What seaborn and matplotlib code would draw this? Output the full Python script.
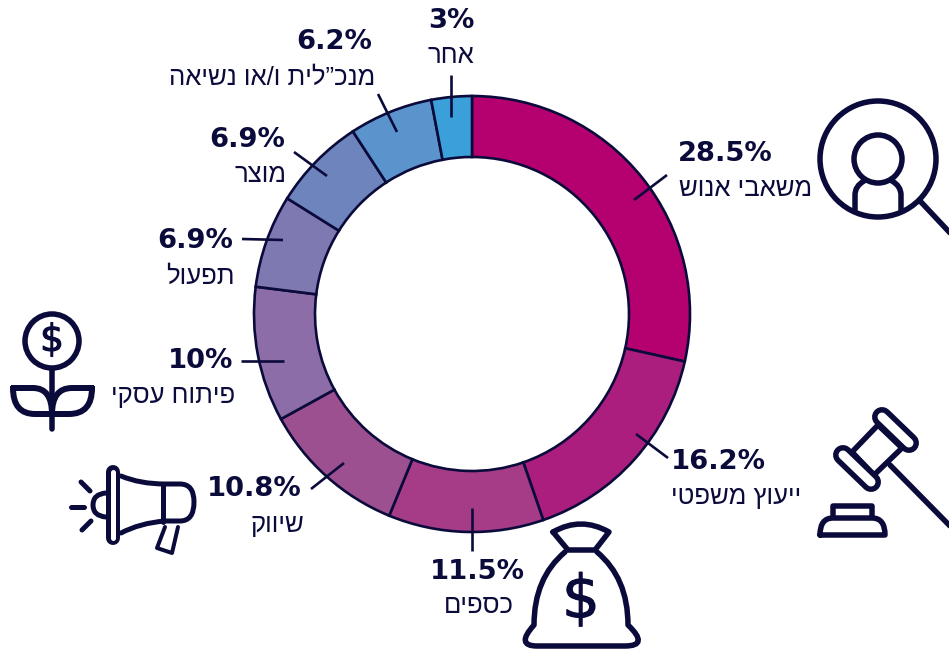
import matplotlib
matplotlib.use("Agg")
import matplotlib.pyplot as plt
import matplotlib.patheffects as pe
import seaborn as sns
from matplotlib.patches import Circle, PathPatch, Polygon
from matplotlib.path import Path

# data, clockwise from the top
labels = ["משאבי אנוש", "ייעוץ משפטי", "כספים", "שיווק", "פיתוח עסקי", "תפעול", "מוצר", "מנכ”לית ו/או נשיאה", "אחר"]
values = [28.5, 16.2, 11.5, 10.8, 10, 6.9, 6.9, 6.2, 3]
pct_labels = ["28.5%", "16.2%", "11.5%", "10.8%", "10%", "6.9%", "6.9%", "6.2%", "3%"]
slice_colors = ["#B5006F", "#AB1E7E", "#A63B88", "#9C5090", "#8C6DA8", "#7F79B2", "#6E84BC", "#5B94CC", "#3B9FD9"]

# layout in pixels: leader line, text anchor x, pct y, label y, alignment
leaders = [((634, 200), (667, 175)), ((636, 434), (668, 458)), ((472, 508), (472, 551)),
           ((311, 489), (344, 463)), ((241, 361), (284, 361)), ((242, 239), (283, 240)),
           ((294, 152), (327, 176)), ((378, 94), (397, 132)), ((451, 75), (451, 117))]
pct_pos = [(678, 154), (671, 462), (477, 572), (302, 489), (233, 361), (233, 241), (285, 140), (372, 42), (451, 21)]
label_pos = [(679, 188), (671, 496), (479, 605), (304, 524), (235, 395), (235, 276), (287, 174), (375, 77), (474, 55)]
aligns = ["left", "left", "center", "right", "right", "right", "right", "right", "right"]

INK = "#0B0B3B"
W, H = 949, 649
CX, CY, R, r_in = 472, 314, 218, 157

sns.set_theme(style="white")
plt.rcParams["font.family"] = ["Liberation Sans", "DejaVu Sans"]

fig = plt.figure(figsize=(W / 100, H / 100), dpi=100, facecolor="white")

# donut
ax = fig.add_axes([(CX - R) / W, 1 - (CY + R) / H, 2 * R / W, 2 * R / H])
ax.pie(values, colors=sns.color_palette(slice_colors), startangle=90, counterclock=False, radius=1,
       wedgeprops=dict(width=1 - r_in / R, edgecolor=INK, linewidth=1.9, clip_on=False))
ax.set_xlim(-1, 1)
ax.set_ylim(-1, 1)

# overlay in pixel coordinates for leaders, text and icons
ov = fig.add_axes([0, 0, 1, 1], facecolor="none")
ov.set_xlim(0, W)
ov.set_ylim(H, 0)
ov.axis("off")

for (p0, p1) in leaders:
    ov.plot([p0[0], p1[0]], [p0[1], p1[1]], color=INK, lw=1.9, solid_capstyle="butt")

for i in range(len(values)):
    ov.text(pct_pos[i][0], pct_pos[i][1], pct_labels[i], ha="center" if i == 8 else aligns[i], va="center",
            fontsize=19.7, fontweight="bold", color=INK, family=["DejaVu Sans"])
    # matplotlib has no bidi, so Hebrew goes in visual order
    ov.text(label_pos[i][0], label_pos[i][1] + 1, labels[i][::-1], ha=aligns[i], va="center",
            fontsize=18.5, color=INK)


def stroke(points, lw=5.5, codes=None):
    if codes is None:
        codes = [Path.MOVETO] + [Path.LINETO] * (len(points) - 1)
    ov.add_patch(PathPatch(Path(points, codes), facecolor="none", edgecolor=INK, lw=lw * 0.72,
                           capstyle="round", joinstyle="round"))


C3, L, M = Path.CURVE3, Path.LINETO, Path.MOVETO

# magnifier with person
ov.add_patch(Circle((878, 159), 58, fill=False, ec=INK, lw=5.5 * 0.72))
ov.add_patch(Circle((878, 159), 24, fill=False, ec=INK, lw=5.5 * 0.72))
stroke([(855, 210), (855, 195), (855, 186), (864, 181)], codes=[M, L, C3, C3])
stroke([(901, 210), (901, 195), (901, 186), (892, 181)], codes=[M, L, C3, C3])
stroke([(921, 202), (952, 235)])

# gavel
ov.plot([882, 909], [417, 443], color=INK, lw=20 * 0.72, solid_capstyle="round")
ov.plot([882, 909], [417, 443], color="white", lw=9 * 0.72, solid_capstyle="round")
ov.plot([843, 871], [455, 482], color=INK, lw=20 * 0.72, solid_capstyle="round")
ov.plot([843, 871], [455, 482], color="white", lw=9 * 0.72, solid_capstyle="round")
ov.add_patch(Polygon([(878, 425), (902, 448), (874, 475), (852, 452)], fill=False, ec=INK, lw=5.5 * 0.72))
stroke([(890, 465), (952, 528)])
stroke([(833, 517), (833, 506), (872, 506), (872, 517)])
stroke([(820, 535), (885, 535), (885, 518), (872, 518), (833, 518), (820, 518), (820, 535)],
       codes=[M, L, C3, C3, L, C3, C3])

# plant
ov.add_patch(Circle((52, 341), 27, fill=False, ec=INK, lw=5.5 * 0.72))
ov.text(52, 341, "$", ha="center", va="center", fontsize=27, color=INK, family=["DejaVu Sans"],
        path_effects=[pe.withStroke(linewidth=0.8, foreground=INK)])
stroke([(52, 369), (52, 429)])
stroke([(13, 388), (33, 388), (52, 388), (52, 414), (35, 414), (13, 414), (13, 388)],
       codes=[M, L, C3, C3, L, C3, C3], lw=6)
stroke([(92, 388), (72, 388), (52, 388), (52, 414), (69, 414), (92, 414), (92, 388)],
       codes=[M, L, C3, C3, L, C3, C3], lw=6)

# megaphone
ov.plot([113, 113], [472, 538], color=INK, lw=14 * 0.72, solid_capstyle="round")
ov.plot([113, 113], [472, 538], color="white", lw=5 * 0.72, solid_capstyle="round")
stroke([(121, 476), (140, 484), (165, 484), (180, 484), (194, 484), (194, 502), (194, 521), (180, 521),
        (165, 521), (140, 523), (121, 533)],
       codes=[M, C3, C3, L, C3, C3, C3, C3, L, C3, C3], lw=5)
stroke([(163, 484), (163, 522)], lw=5)
stroke([(106, 493), (93, 494), (93, 505), (93, 516), (106, 517)], codes=[M, C3, C3, C3, C3], lw=5)
stroke([(71, 507), (84, 507)], lw=5)
stroke([(81, 482), (90, 491)], lw=5)
stroke([(82, 530), (91, 521)], lw=5)
stroke([(165, 527), (157, 548), (172, 553), (178, 527)], lw=4)

# money bag
stroke([(553, 532), (581, 516), (609, 532), (595, 550), (568, 550), (553, 532)], codes=[M, C3, C3, L, L, L])
stroke([(565, 552), (534, 578), (534, 625), (515, 646), (537, 646), (625, 646), (650, 646), (628, 625),
        (628, 578), (597, 552)],
       codes=[M, C3, C3, C3, C3, L, C3, C3, C3, C3])
ov.text(581, 601, "$", ha="center", va="center", fontsize=43, color=INK, family=["DejaVu Sans"],
        path_effects=[pe.withStroke(linewidth=0.8, foreground=INK)])

fig.savefig("out.png", dpi=100)
